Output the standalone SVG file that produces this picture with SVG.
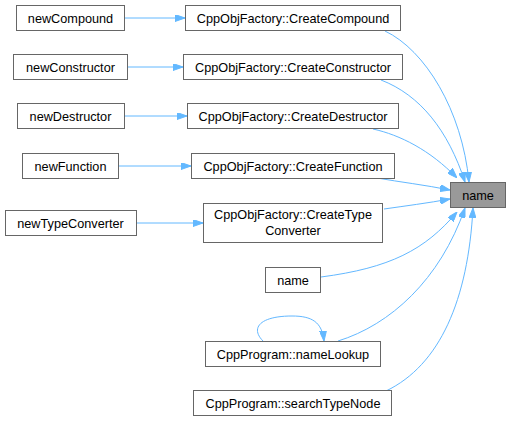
<svg xmlns="http://www.w3.org/2000/svg" width="511" height="421" viewBox="0 0 511 421">
<style>
.n rect{fill:#fff;stroke:#666;stroke-width:1}
.n text{font-family:"Liberation Sans",Arial,sans-serif;font-size:12.7px;fill:#000;text-anchor:middle}
#name_main rect{fill:#999}
.e path{fill:none;stroke:#63b8ff;stroke-width:1}
</style>
<defs>
<marker id="ah" viewBox="0 0 10 7" refX="10" refY="3.5" markerWidth="10" markerHeight="7" orient="auto" markerUnits="userSpaceOnUse">
<path d="M0,0 L10,3.5 L0,7 Z" fill="#63b8ff" stroke="#63b8ff"/>
</marker>
</defs>
<g class="e" id="edges">
<path d="M125,18 H185" marker-end="url(#ah)"/>
<path d="M127,67 H183" marker-end="url(#ah)"/>
<path d="M124,116 H187" marker-end="url(#ah)"/>
<path d="M119,166 H191" marker-end="url(#ah)"/>
<path d="M136,223 H203" marker-end="url(#ah)"/>
<path d="M385,31 C425,50 462,110 469,182" marker-end="url(#ah)"/>
<path d="M381,80 C420,95 448,130 465,182" marker-end="url(#ah)"/>
<path d="M373,129 C400,135 430,150 457,178" marker-end="url(#ah)"/>
<path d="M377,178 C400,182 425,185 450,190" marker-end="url(#ah)"/>
<path d="M384,209 C405,206 428,203 450,199" marker-end="url(#ah)"/>
<path d="M321,277 C390,268 425,250 457,212" marker-end="url(#ah)"/>
<path d="M338,341 C390,325 440,280 465,208" marker-end="url(#ah)"/>
<path d="M386,391 C440,365 468,300 473,208" marker-end="url(#ah)"/>
<path d="M263,341 C250,328 260,316 292,316 C312,316 322,322 324,341" marker-end="url(#ah)"/>
</g>
<g class="n" id="newCompound"><rect x="16.5" y="5.5" width="108" height="25"/><text x="70.5" y="22.5">newCompound</text></g>
<g class="n" id="CreateCompound"><rect x="185.5" y="5.5" width="215" height="25"/><text x="293" y="22.5">CppObjFactory::CreateCompound</text></g>
<g class="n" id="newConstructor"><rect x="13.5" y="54.5" width="114" height="25"/><text x="70.5" y="71.5">newConstructor</text></g>
<g class="n" id="CreateConstructor"><rect x="183.5" y="54.5" width="219" height="25"/><text x="293" y="71.5">CppObjFactory::CreateConstructor</text></g>
<g class="n" id="newDestructor"><rect x="17.5" y="103.5" width="107" height="25"/><text x="70.5" y="120.5">newDestructor</text></g>
<g class="n" id="CreateDestructor"><rect x="187.5" y="103.5" width="211" height="25"/><text x="293" y="120.5">CppObjFactory::CreateDestructor</text></g>
<g class="n" id="newFunction"><rect x="22.5" y="153.5" width="96" height="25"/><text x="70.5" y="170.5">newFunction</text></g>
<g class="n" id="CreateFunction"><rect x="191.5" y="153.5" width="203" height="25"/><text x="293" y="170.5">CppObjFactory::CreateFunction</text></g>
<g class="n" id="newTypeConverter"><rect x="5.5" y="210.5" width="131" height="25"/><text x="70.5" y="227.5">newTypeConverter</text></g>
<g class="n" id="CreateTypeConverter"><rect x="203.5" y="203.5" width="179" height="39"/><text x="293" y="219">CppObjFactory::CreateType</text><text x="293" y="235">Converter</text></g>
<g class="n" id="name_main"><rect x="450.5" y="182.5" width="55" height="25"/><text x="478" y="199.5">name</text></g>
<g class="n" id="name2"><rect x="265.5" y="267.5" width="55" height="25"/><text x="293" y="284.5">name</text></g>
<g class="n" id="nameLookup"><rect x="205.5" y="341.5" width="175" height="25"/><text x="293" y="358.5">CppProgram::nameLookup</text></g>
<g class="n" id="searchTypeNode"><rect x="193.5" y="390.5" width="198" height="25"/><text x="293" y="407.5">CppProgram::searchTypeNode</text></g>
</svg>
